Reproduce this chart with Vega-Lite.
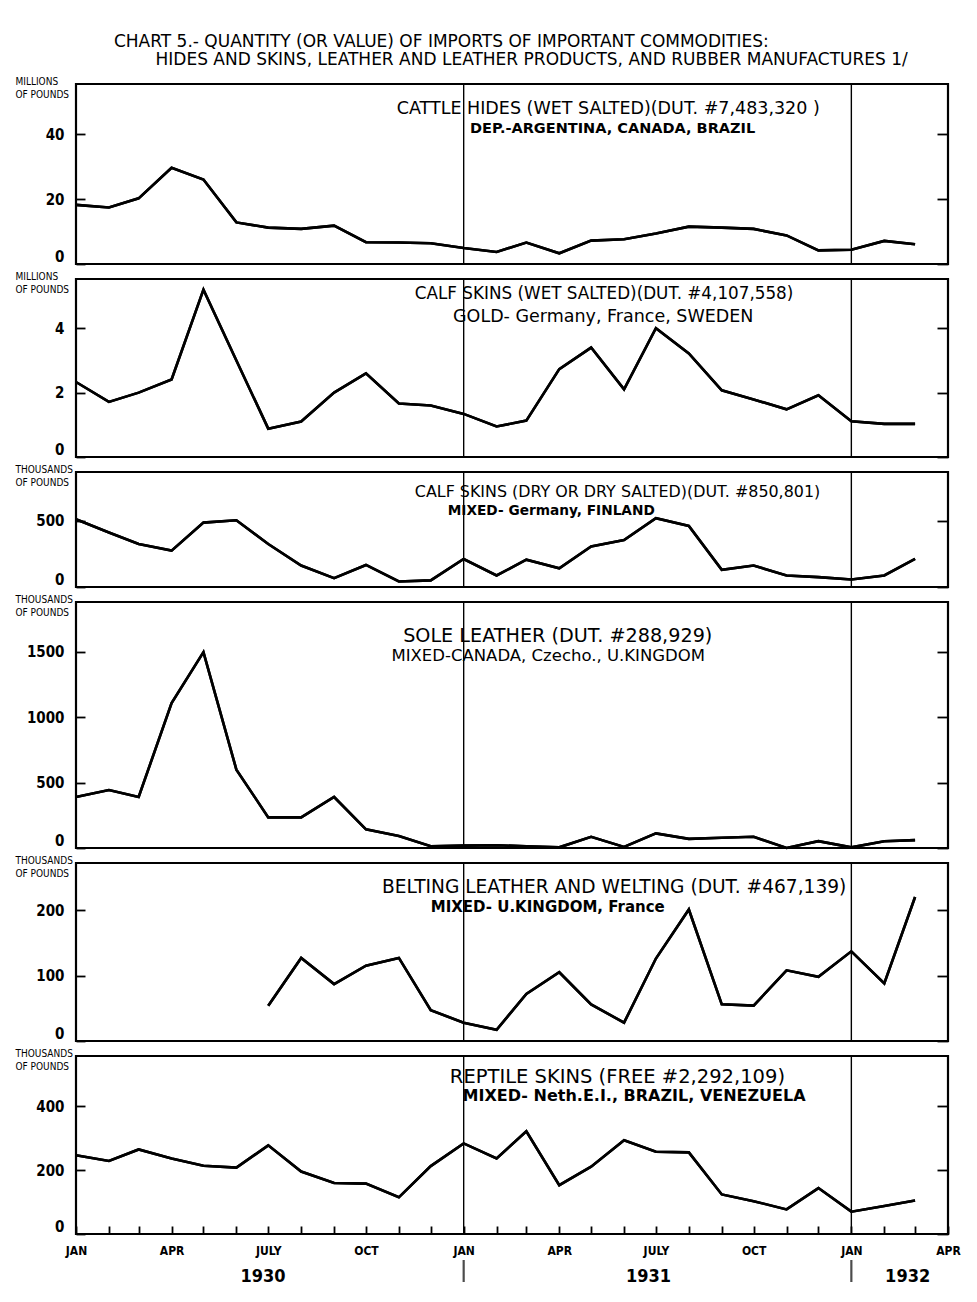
{
  "$schema": "https://vega.github.io/schema/vega-lite/v6.json",
  "padding": {"left": 13, "top": 33, "right": 5, "bottom": 4},
  "background": "white",
  "datasets": {
    "heading": [
      {"line": 1, "date": "1930-12-11", "label": "CHART 5.- QUANTITY (OR VALUE) OF IMPORTS OF IMPORTANT COMMODITIES:"},
      {"line": 2, "date": "1931-03-06", "label": "HIDES AND SKINS, LEATHER AND LEATHER PRODUCTS, AND RUBBER MANUFACTURES 1/"}
    ],
    "monthly": [
      {"date": "1930-01-01", "cattle": 18.2, "calfwet": 2.33, "calfdry": 512, "sole": 390, "belting": null, "reptile": 247},
      {"date": "1930-02-01", "cattle": 17.4, "calfwet": 1.71, "calfdry": 412, "sole": 443, "belting": null, "reptile": 229},
      {"date": "1930-03-01", "cattle": 20.2, "calfwet": 2.0, "calfdry": 325, "sole": 390, "belting": null, "reptile": 265},
      {"date": "1930-04-01", "cattle": 29.6, "calfwet": 2.41, "calfdry": 275, "sole": 1107, "belting": null, "reptile": 237},
      {"date": "1930-05-01", "cattle": 26.0, "calfwet": 5.2, "calfdry": 487, "sole": 1497, "belting": null, "reptile": 214},
      {"date": "1930-06-01", "cattle": 12.8, "calfwet": 3.0, "calfdry": 505, "sole": 599, "belting": null, "reptile": 208},
      {"date": "1930-07-01", "cattle": 11.2, "calfwet": 0.88, "calfdry": 325, "sole": 234, "belting": 54, "reptile": 278},
      {"date": "1930-08-01", "cattle": 10.8, "calfwet": 1.1, "calfdry": 162, "sole": 234, "belting": 127, "reptile": 196},
      {"date": "1930-09-01", "cattle": 11.8, "calfwet": 2.0, "calfdry": 67, "sole": 390, "belting": 87, "reptile": 160},
      {"date": "1930-10-01", "cattle": 6.7, "calfwet": 2.6, "calfdry": 167, "sole": 143, "belting": 115, "reptile": 158},
      {"date": "1930-11-01", "cattle": 6.6, "calfwet": 1.66, "calfdry": 42, "sole": 91, "belting": 127, "reptile": 115},
      {"date": "1930-12-01", "cattle": 6.4, "calfwet": 1.6, "calfdry": 50, "sole": 13, "belting": 47, "reptile": 213},
      {"date": "1931-01-01", "cattle": 4.9, "calfwet": 1.34, "calfdry": 212, "sole": 18, "belting": 28, "reptile": 284},
      {"date": "1931-02-01", "cattle": 3.7, "calfwet": 0.95, "calfdry": 87, "sole": 21, "belting": 17, "reptile": 237},
      {"date": "1931-03-01", "cattle": 6.6, "calfwet": 1.13, "calfdry": 207, "sole": 13, "belting": 72, "reptile": 322},
      {"date": "1931-04-01", "cattle": 3.3, "calfwet": 2.73, "calfdry": 142, "sole": 5, "belting": 105, "reptile": 153},
      {"date": "1931-05-01", "cattle": 7.2, "calfwet": 3.4, "calfdry": 307, "sole": 86, "belting": 56, "reptile": 211},
      {"date": "1931-06-01", "cattle": 7.6, "calfwet": 2.1, "calfdry": 355, "sole": 8, "belting": 28, "reptile": 294},
      {"date": "1931-07-01", "cattle": 9.4, "calfwet": 4.0, "calfdry": 520, "sole": 112, "belting": 126, "reptile": 258},
      {"date": "1931-08-01", "cattle": 11.5, "calfwet": 3.22, "calfdry": 462, "sole": 70, "belting": 201, "reptile": 256},
      {"date": "1931-09-01", "cattle": 11.2, "calfwet": 2.07, "calfdry": 130, "sole": 78, "belting": 56, "reptile": 124},
      {"date": "1931-10-01", "cattle": 10.8, "calfwet": 1.79, "calfdry": 162, "sole": 86, "belting": 54, "reptile": 103},
      {"date": "1931-11-01", "cattle": 8.8, "calfwet": 1.48, "calfdry": 87, "sole": 0, "belting": 108, "reptile": 77},
      {"date": "1931-12-01", "cattle": 4.2, "calfwet": 1.92, "calfdry": 75, "sole": 52, "belting": 98, "reptile": 144},
      {"date": "1932-01-01", "cattle": 4.4, "calfwet": 1.11, "calfdry": 57, "sole": 5, "belting": 137, "reptile": 70},
      {"date": "1932-02-01", "cattle": 7.1, "calfwet": 1.03, "calfdry": 87, "sole": 52, "belting": 88, "reptile": 88},
      {"date": "1932-03-01", "cattle": 6.1, "calfwet": 1.03, "calfdry": 212, "sole": 60, "belting": 220, "reptile": 105}
    ],
    "yearlines": [{"date": "1931-01-01"}, {"date": "1932-01-01"}],
    "years": [
      {"date": "1930-06-26", "label": "1930"},
      {"date": "1931-06-24", "label": "1931"},
      {"date": "1932-02-23", "label": "1932"}
    ],
    "notes": [
      {"panel": "cattle", "line": 1, "date": "1930-10-30", "y": 47.7, "label": "CATTLE  HIDES (WET SALTED)(DUT. #7,483,320 )"},
      {"panel": "cattle", "line": 2, "date": "1931-01-07", "y": 41.5, "label": "DEP.-ARGENTINA, CANADA, BRAZIL"},
      {"panel": "calfwet", "line": 1, "date": "1930-11-16", "y": 5.06, "label": "CALF SKINS (WET SALTED)(DUT. #4,107,558)"},
      {"panel": "calfwet", "line": 2, "date": "1930-12-22", "y": 4.35, "label": "GOLD- Germany, France, SWEDEN"},
      {"panel": "calfdry", "line": 1, "date": "1930-11-16", "y": 719, "label": "CALF SKINS (DRY OR DRY SALTED)(DUT. #850,801)"},
      {"panel": "calfdry", "line": 2, "date": "1930-12-17", "y": 575, "label": "MIXED- Germany, FINLAND"},
      {"panel": "sole", "line": 1, "date": "1930-11-05", "y": 1620, "label": "SOLE  LEATHER (DUT. #288,929)"},
      {"panel": "sole", "line": 2, "date": "1930-10-25", "y": 1467, "label": "MIXED-CANADA, Czecho., U.KINGDOM"},
      {"panel": "belting", "line": 1, "date": "1930-10-16", "y": 235, "label": "BELTING LEATHER AND WELTING (DUT. #467,139)"},
      {"panel": "belting", "line": 2, "date": "1930-12-01", "y": 205, "label": "MIXED- U.KINGDOM, France"},
      {"panel": "reptile", "line": 1, "date": "1930-12-19", "y": 492, "label": "REPTILE SKINS (FREE #2,292,109)"},
      {"panel": "reptile", "line": 2, "date": "1930-12-31", "y": 433, "label": "MIXED- Neth.E.I., BRAZIL, VENEZUELA"}
    ]
  },
  "vconcat": [
    {
      "width": 872, "height": 36,
      "view": {"stroke": null},
      "layer": [
        {"data": {"name": "heading"}, "transform": [{"filter": "datum.line == 1"}],
         "mark": {"type": "text", "align": "center", "baseline": "middle", "dy": -9, "font": "DejaVu Sans", "fontSize": 17, "color": "black"},
         "encoding": {"x": {"field": "date", "type": "temporal", "scale": {"type": "utc", "domain": [{"year": 1930, "month": 1, "date": 1, "utc": true}, {"year": 1932, "month": 4, "date": 1, "utc": true}]}, "axis": null}, "text": {"field": "label"}}},
        {"data": {"name": "heading"}, "transform": [{"filter": "datum.line == 2"}],
         "mark": {"type": "text", "align": "center", "baseline": "middle", "dy": 9, "font": "DejaVu Sans", "fontSize": 17, "color": "black"},
         "encoding": {"x": {"field": "date", "type": "temporal", "axis": null}, "text": {"field": "label"}}}
      ]
    },
    {
      "width": 872, "height": 180,
      "resolve": {"axis": {"x": "independent", "y": "independent"}},
      "layer": [
        {"data": {"name": "yearlines"}, "mark": {"type": "rule", "color": "black", "strokeWidth": 1.4},
         "encoding": {"x": {"field": "date", "type": "temporal", "scale": {"type": "utc", "domain": [{"year": 1930, "month": 1, "date": 1, "utc": true}, {"year": 1932, "month": 4, "date": 1, "utc": true}]}, "axis": null}}},
        {"data": {"name": "monthly"}, "mark": {"type": "line", "color": "black", "strokeWidth": 2.6},
         "encoding": {"x": {"field": "date", "type": "temporal", "axis": null},
           "y": {"field": "cattle", "type": "quantitative", "scale": {"domain": [0, 55.4], "nice": false},
             "axis": {"orient": "left", "values": [0, 20, 40], "format": "d", "labelFlush": true, "title": ["MILLIONS", "OF POUNDS"], "titleAngle": 0, "titleAlign": "left", "titleBaseline": "top", "titleX": -61, "titleY": -8, "titleFont": "DejaVu Sans Condensed", "titleFontSize": 10, "titleFontWeight": "normal", "titleLineHeight": 13, "tickSize": -9, "tickWidth": 1.8, "domain": false, "grid": false, "labelFont": "DejaVu Sans Condensed", "labelFontSize": 15, "labelFontWeight": "bold", "labelPadding": 21}}}},
        {"data": {"name": "monthly"}, "mark": {"type": "line", "color": "black", "strokeWidth": 2.6},
         "encoding": {"x": {"field": "date", "type": "temporal", "axis": null},
           "y": {"field": "cattle", "type": "quantitative", "axis": {"orient": "right", "values": [0, 20, 40], "labels": false, "title": null, "tickSize": -11, "tickWidth": 1.8, "domain": false, "grid": false}}}},
        {"data": {"name": "notes"}, "transform": [{"filter": "datum.panel == 'cattle' && datum.line == 1"}],
         "mark": {"type": "text", "align": "left", "baseline": "middle", "font": "DejaVu Sans", "fontSize": 17.5, "color": "black"},
         "encoding": {"x": {"field": "date", "type": "temporal", "axis": null}, "y": {"field": "y", "type": "quantitative", "axis": null}, "text": {"field": "label"}}},
        {"data": {"name": "notes"}, "transform": [{"filter": "datum.panel == 'cattle' && datum.line == 2"}],
         "mark": {"type": "text", "align": "left", "baseline": "middle", "font": "DejaVu Sans", "fontSize": 14.5, "fontWeight": "bold", "color": "black"},
         "encoding": {"x": {"field": "date", "type": "temporal", "axis": null}, "y": {"field": "y", "type": "quantitative", "axis": null}, "text": {"field": "label"}}}
      ]
    },
    {
      "width": 872, "height": 178,
      "resolve": {"axis": {"x": "independent", "y": "independent"}},
      "layer": [
        {"data": {"name": "yearlines"}, "mark": {"type": "rule", "color": "black", "strokeWidth": 1.4},
         "encoding": {"x": {"field": "date", "type": "temporal", "scale": {"type": "utc", "domain": [{"year": 1930, "month": 1, "date": 1, "utc": true}, {"year": 1932, "month": 4, "date": 1, "utc": true}]}, "axis": null}}},
        {"data": {"name": "monthly"}, "mark": {"type": "line", "color": "black", "strokeWidth": 2.6},
         "encoding": {"x": {"field": "date", "type": "temporal", "axis": null},
           "y": {"field": "calfwet", "type": "quantitative", "scale": {"domain": [0, 5.53], "nice": false},
             "axis": {"orient": "left", "values": [0, 2, 4], "format": "d", "labelFlush": true, "title": ["MILLIONS", "OF POUNDS"], "titleAngle": 0, "titleAlign": "left", "titleBaseline": "top", "titleX": -61, "titleY": -8, "titleFont": "DejaVu Sans Condensed", "titleFontSize": 10, "titleFontWeight": "normal", "titleLineHeight": 13, "tickSize": -9, "tickWidth": 1.8, "domain": false, "grid": false, "labelFont": "DejaVu Sans Condensed", "labelFontSize": 15, "labelFontWeight": "bold", "labelPadding": 21}}}},
        {"data": {"name": "monthly"}, "mark": {"type": "line", "color": "black", "strokeWidth": 2.6},
         "encoding": {"x": {"field": "date", "type": "temporal", "axis": null},
           "y": {"field": "calfwet", "type": "quantitative", "axis": {"orient": "right", "values": [0, 2, 4], "labels": false, "title": null, "tickSize": -11, "tickWidth": 1.8, "domain": false, "grid": false}}}},
        {"data": {"name": "notes"}, "transform": [{"filter": "datum.panel == 'calfwet' && datum.line == 1"}],
         "mark": {"type": "text", "align": "left", "baseline": "middle", "font": "DejaVu Sans", "fontSize": 16.8, "color": "black"},
         "encoding": {"x": {"field": "date", "type": "temporal", "axis": null}, "y": {"field": "y", "type": "quantitative", "axis": null}, "text": {"field": "label"}}},
        {"data": {"name": "notes"}, "transform": [{"filter": "datum.panel == 'calfwet' && datum.line == 2"}],
         "mark": {"type": "text", "align": "left", "baseline": "middle", "font": "DejaVu Sans", "fontSize": 17.5, "color": "black"},
         "encoding": {"x": {"field": "date", "type": "temporal", "axis": null}, "y": {"field": "y", "type": "quantitative", "axis": null}, "text": {"field": "label"}}}
      ]
    },
    {
      "width": 872, "height": 115,
      "resolve": {"axis": {"x": "independent", "y": "independent"}},
      "layer": [
        {"data": {"name": "yearlines"}, "mark": {"type": "rule", "color": "black", "strokeWidth": 1.4},
         "encoding": {"x": {"field": "date", "type": "temporal", "scale": {"type": "utc", "domain": [{"year": 1930, "month": 1, "date": 1, "utc": true}, {"year": 1932, "month": 4, "date": 1, "utc": true}]}, "axis": null}}},
        {"data": {"name": "monthly"}, "mark": {"type": "line", "color": "black", "strokeWidth": 2.6},
         "encoding": {"x": {"field": "date", "type": "temporal", "axis": null},
           "y": {"field": "calfdry", "type": "quantitative", "scale": {"domain": [0, 870], "nice": false},
             "axis": {"orient": "left", "values": [0, 500], "format": "d", "labelFlush": true, "title": ["THOUSANDS", "OF POUNDS"], "titleAngle": 0, "titleAlign": "left", "titleBaseline": "top", "titleX": -61, "titleY": -8, "titleFont": "DejaVu Sans Condensed", "titleFontSize": 10, "titleFontWeight": "normal", "titleLineHeight": 13, "tickSize": -9, "tickWidth": 1.8, "domain": false, "grid": false, "labelFont": "DejaVu Sans Condensed", "labelFontSize": 15, "labelFontWeight": "bold", "labelPadding": 21}}}},
        {"data": {"name": "monthly"}, "mark": {"type": "line", "color": "black", "strokeWidth": 2.6},
         "encoding": {"x": {"field": "date", "type": "temporal", "axis": null},
           "y": {"field": "calfdry", "type": "quantitative", "axis": {"orient": "right", "values": [0, 500], "labels": false, "title": null, "tickSize": -11, "tickWidth": 1.8, "domain": false, "grid": false}}}},
        {"data": {"name": "notes"}, "transform": [{"filter": "datum.panel == 'calfdry' && datum.line == 1"}],
         "mark": {"type": "text", "align": "left", "baseline": "middle", "font": "DejaVu Sans", "fontSize": 15.9, "color": "black"},
         "encoding": {"x": {"field": "date", "type": "temporal", "axis": null}, "y": {"field": "y", "type": "quantitative", "axis": null}, "text": {"field": "label"}}},
        {"data": {"name": "notes"}, "transform": [{"filter": "datum.panel == 'calfdry' && datum.line == 2"}],
         "mark": {"type": "text", "align": "left", "baseline": "middle", "font": "DejaVu Sans", "fontSize": 13.7, "fontWeight": "bold", "color": "black"},
         "encoding": {"x": {"field": "date", "type": "temporal", "axis": null}, "y": {"field": "y", "type": "quantitative", "axis": null}, "text": {"field": "label"}}}
      ]
    },
    {
      "width": 872, "height": 246,
      "resolve": {"axis": {"x": "independent", "y": "independent"}},
      "layer": [
        {"data": {"name": "yearlines"}, "mark": {"type": "rule", "color": "black", "strokeWidth": 1.4},
         "encoding": {"x": {"field": "date", "type": "temporal", "scale": {"type": "utc", "domain": [{"year": 1930, "month": 1, "date": 1, "utc": true}, {"year": 1932, "month": 4, "date": 1, "utc": true}]}, "axis": null}}},
        {"data": {"name": "monthly"}, "mark": {"type": "line", "color": "black", "strokeWidth": 2.6},
         "encoding": {"x": {"field": "date", "type": "temporal", "axis": null},
           "y": {"field": "sole", "type": "quantitative", "scale": {"domain": [0, 1880], "nice": false},
             "axis": {"orient": "left", "values": [0, 500, 1000, 1500], "format": "d", "labelFlush": true, "title": ["THOUSANDS", "OF POUNDS"], "titleAngle": 0, "titleAlign": "left", "titleBaseline": "top", "titleX": -61, "titleY": -8, "titleFont": "DejaVu Sans Condensed", "titleFontSize": 10, "titleFontWeight": "normal", "titleLineHeight": 13, "tickSize": -9, "tickWidth": 1.8, "domain": false, "grid": false, "labelFont": "DejaVu Sans Condensed", "labelFontSize": 15, "labelFontWeight": "bold", "labelPadding": 21}}}},
        {"data": {"name": "monthly"}, "mark": {"type": "line", "color": "black", "strokeWidth": 2.6},
         "encoding": {"x": {"field": "date", "type": "temporal", "axis": null},
           "y": {"field": "sole", "type": "quantitative", "axis": {"orient": "right", "values": [0, 500, 1000, 1500], "labels": false, "title": null, "tickSize": -11, "tickWidth": 1.8, "domain": false, "grid": false}}}},
        {"data": {"name": "notes"}, "transform": [{"filter": "datum.panel == 'sole' && datum.line == 1"}],
         "mark": {"type": "text", "align": "left", "baseline": "middle", "font": "DejaVu Sans", "fontSize": 19.2, "color": "black"},
         "encoding": {"x": {"field": "date", "type": "temporal", "axis": null}, "y": {"field": "y", "type": "quantitative", "axis": null}, "text": {"field": "label"}}},
        {"data": {"name": "notes"}, "transform": [{"filter": "datum.panel == 'sole' && datum.line == 2"}],
         "mark": {"type": "text", "align": "left", "baseline": "middle", "font": "DejaVu Sans", "fontSize": 16.5, "color": "black"},
         "encoding": {"x": {"field": "date", "type": "temporal", "axis": null}, "y": {"field": "y", "type": "quantitative", "axis": null}, "text": {"field": "label"}}}
      ]
    },
    {
      "width": 872, "height": 178,
      "resolve": {"axis": {"x": "independent", "y": "independent"}},
      "layer": [
        {"data": {"name": "yearlines"}, "mark": {"type": "rule", "color": "black", "strokeWidth": 1.4},
         "encoding": {"x": {"field": "date", "type": "temporal", "scale": {"type": "utc", "domain": [{"year": 1930, "month": 1, "date": 1, "utc": true}, {"year": 1932, "month": 4, "date": 1, "utc": true}]}, "axis": null}}},
        {"data": {"name": "monthly"}, "mark": {"type": "line", "color": "black", "strokeWidth": 2.6},
         "encoding": {"x": {"field": "date", "type": "temporal", "axis": null},
           "y": {"field": "belting", "type": "quantitative", "scale": {"domain": [0, 272], "nice": false},
             "axis": {"orient": "left", "values": [0, 100, 200], "format": "d", "labelFlush": true, "title": ["THOUSANDS", "OF POUNDS"], "titleAngle": 0, "titleAlign": "left", "titleBaseline": "top", "titleX": -61, "titleY": -8, "titleFont": "DejaVu Sans Condensed", "titleFontSize": 10, "titleFontWeight": "normal", "titleLineHeight": 13, "tickSize": -9, "tickWidth": 1.8, "domain": false, "grid": false, "labelFont": "DejaVu Sans Condensed", "labelFontSize": 15, "labelFontWeight": "bold", "labelPadding": 21}}}},
        {"data": {"name": "monthly"}, "mark": {"type": "line", "color": "black", "strokeWidth": 2.6},
         "encoding": {"x": {"field": "date", "type": "temporal", "axis": null},
           "y": {"field": "belting", "type": "quantitative", "axis": {"orient": "right", "values": [0, 100, 200], "labels": false, "title": null, "tickSize": -11, "tickWidth": 1.8, "domain": false, "grid": false}}}},
        {"data": {"name": "notes"}, "transform": [{"filter": "datum.panel == 'belting' && datum.line == 1"}],
         "mark": {"type": "text", "align": "left", "baseline": "middle", "font": "DejaVu Sans", "fontSize": 18.6, "color": "black"},
         "encoding": {"x": {"field": "date", "type": "temporal", "axis": null}, "y": {"field": "y", "type": "quantitative", "axis": null}, "text": {"field": "label"}}},
        {"data": {"name": "notes"}, "transform": [{"filter": "datum.panel == 'belting' && datum.line == 2"}],
         "mark": {"type": "text", "align": "left", "baseline": "middle", "font": "DejaVu Sans", "fontSize": 15, "fontWeight": "bold", "color": "black"},
         "encoding": {"x": {"field": "date", "type": "temporal", "axis": null}, "y": {"field": "y", "type": "quantitative", "axis": null}, "text": {"field": "label"}}}
      ]
    },
    {
      "width": 872, "height": 178,
      "resolve": {"axis": {"x": "independent", "y": "independent"}},
      "layer": [
        {"data": {"name": "yearlines"}, "mark": {"type": "rule", "color": "black", "strokeWidth": 1.4},
         "encoding": {"x": {"field": "date", "type": "temporal", "scale": {"type": "utc", "domain": [{"year": 1930, "month": 1, "date": 1, "utc": true}, {"year": 1932, "month": 4, "date": 1, "utc": true}]}, "axis": null}}},
        {"data": {"name": "monthly"}, "mark": {"type": "line", "color": "black", "strokeWidth": 2.6},
         "encoding": {"x": {"field": "date", "type": "temporal",
             "axis": {"orient": "bottom", "tickCount": {"interval": "month", "step": 1}, "tickSize": -8, "tickWidth": 1.8, "domain": false, "grid": false, "title": null, "labelExpr": "['JAN','','','APR','','','JULY','','','OCT','',''][utcmonth(datum.value)]", "labelFont": "DejaVu Sans Condensed", "labelFontWeight": "bold", "labelFontSize": 12, "labelPadding": 19, "labelOverlap": false, "labelFlush": false, "labelBound": false}},
           "y": {"field": "reptile", "type": "quantitative", "scale": {"domain": [0, 558], "nice": false},
             "axis": {"orient": "left", "values": [0, 200, 400], "format": "d", "labelFlush": true, "title": ["THOUSANDS", "OF POUNDS"], "titleAngle": 0, "titleAlign": "left", "titleBaseline": "top", "titleX": -61, "titleY": -8, "titleFont": "DejaVu Sans Condensed", "titleFontSize": 10, "titleFontWeight": "normal", "titleLineHeight": 13, "tickSize": -9, "tickWidth": 1.8, "domain": false, "grid": false, "labelFont": "DejaVu Sans Condensed", "labelFontSize": 15, "labelFontWeight": "bold", "labelPadding": 21}}}},
        {"data": {"name": "monthly"}, "mark": {"type": "line", "color": "black", "strokeWidth": 2.6},
         "encoding": {"x": {"field": "date", "type": "temporal", "axis": null},
           "y": {"field": "reptile", "type": "quantitative", "axis": {"orient": "right", "values": [0, 200, 400], "labels": false, "title": null, "tickSize": -11, "tickWidth": 1.8, "domain": false, "grid": false}}}},
        {"data": {"name": "notes"}, "transform": [{"filter": "datum.panel == 'reptile' && datum.line == 1"}],
         "mark": {"type": "text", "align": "left", "baseline": "middle", "font": "DejaVu Sans", "fontSize": 19.5, "color": "black"},
         "encoding": {"x": {"field": "date", "type": "temporal", "axis": null}, "y": {"field": "y", "type": "quantitative", "axis": null}, "text": {"field": "label"}}},
        {"data": {"name": "notes"}, "transform": [{"filter": "datum.panel == 'reptile' && datum.line == 2"}],
         "mark": {"type": "text", "align": "left", "baseline": "middle", "font": "DejaVu Sans", "fontSize": 16, "fontWeight": "bold", "color": "black"},
         "encoding": {"x": {"field": "date", "type": "temporal", "axis": null}, "y": {"field": "y", "type": "quantitative", "axis": null}, "text": {"field": "label"}}}
      ]
    },
    {
      "width": 872, "height": 44,
      "view": {"stroke": null},
      "layer": [
        {"data": {"name": "yearlines"}, "mark": {"type": "tick", "orient": "vertical", "size": 22, "thickness": 2.2, "color": "black"},
         "encoding": {"x": {"field": "date", "type": "temporal", "scale": {"type": "utc", "domain": [{"year": 1930, "month": 1, "date": 1, "utc": true}, {"year": 1932, "month": 4, "date": 1, "utc": true}]}, "axis": null}}},
        {"data": {"name": "years"}, "mark": {"type": "text", "align": "center", "baseline": "middle", "dy": 6, "font": "DejaVu Sans Condensed", "fontSize": 18, "fontWeight": "bold", "color": "black"},
         "encoding": {"x": {"field": "date", "type": "temporal", "axis": null}, "text": {"field": "label"}}}
      ]
    }
  ],
  "spacing": 15,
  "bounds": "flush",
  "config": {
    "view": {"stroke": "black", "strokeWidth": 2.2},
    "font": "DejaVu Sans Condensed",
    "axis": {"labelColor": "black", "tickColor": "black", "titleColor": "black"}
  }
}
